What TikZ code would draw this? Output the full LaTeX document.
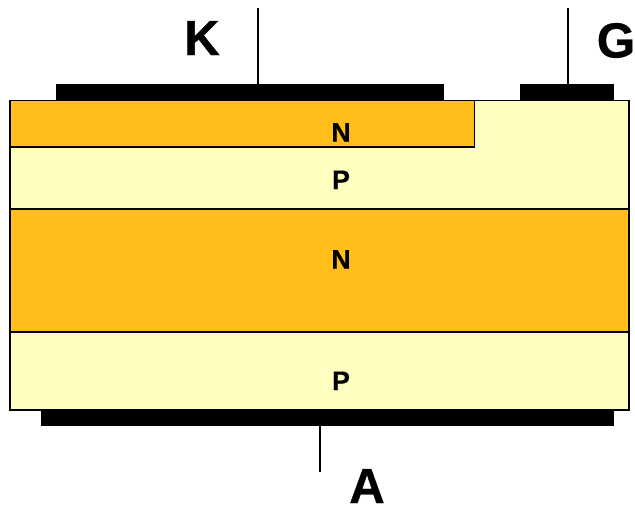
\documentclass[tikz,border=0pt]{standalone}
\usepackage{fontspec}
\setmainfont[BoldFeatures={FakeBold=0.6}]{Liberation Sans}
\definecolor{lay}{RGB}{255,255,194}
\definecolor{dop}{RGB}{255,190,24}
\tikzset{x=0.75pt,y=-0.75pt,
 layer/.style={draw=black,line width=1.1pt,inner sep=0pt,outer sep=0pt},
 metal/.style={fill=black,draw=none},
 wire/.style={draw=black,line width=1pt},
 dlabel/.style={font=\bfseries\fontsize{20}{22}\selectfont,inner sep=0pt,anchor=base},
 term/.style={font=\bfseries\fontsize{37}{40}\selectfont,inner sep=0pt,anchor=base}}
\begin{document}
\begin{tikzpicture}
\useasboundingbox (0,0) rectangle (635,507);
\fill[white] (0,0) rectangle (635,507);
\fill[metal] (56,84) rectangle (444,101);
\fill[metal] (520,84) rectangle (614,101);
\fill[metal] (41,409) rectangle (614,426);
\draw[layer,fill=lay] (10,100.5) rectangle (629,410);
\draw[layer,fill=dop] (10,209) rectangle (629,332);
\draw[layer,fill=dop] (10,100.5) rectangle (474.5,147);
\fill[metal] (56,84) rectangle (444,100);
\fill[metal] (520,84) rectangle (614,100);
\coordinate (kt) at (258,8); \coordinate (kb) at (258,84);
\coordinate (gt) at (568,8); \coordinate (gb) at (568,84);
\coordinate (at) at (320,426); \coordinate (ab) at (320,472);
\draw[wire] (kt) -- (kb);
\draw[wire] (gt) -- (gb);
\draw[wire] (at) -- (ab);
\node[dlabel] (n1) at (341,141.5) {N};
\node[dlabel] (p1) at (341,189) {P};
\node[dlabel] (n2) at (341,268.5) {N};
\node[dlabel] (p2) at (341,390) {P};
\node[term] (k) at (202,55) {K};
\node[term] (g) at (616,57.5) {G};
\node[term] (a) at (367,503) {A};
\end{tikzpicture}
\end{document}
